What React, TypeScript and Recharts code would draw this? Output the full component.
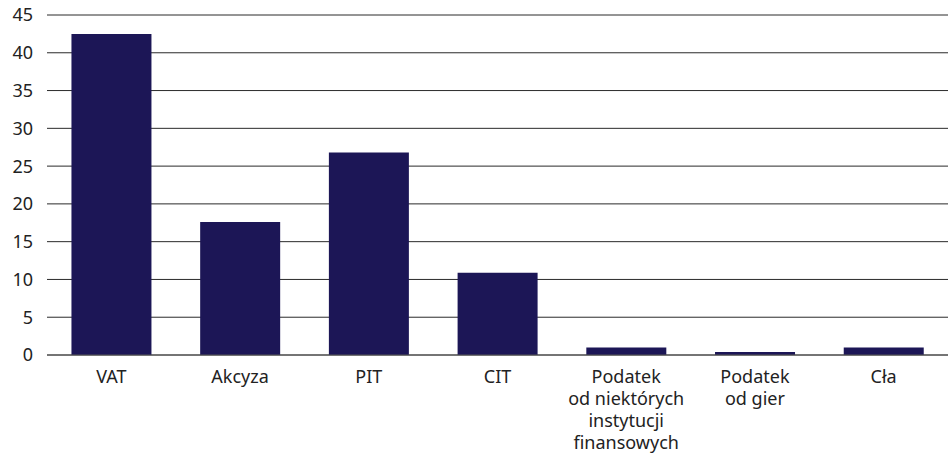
import { Bar, BarChart, CartesianGrid, XAxis, YAxis } from "recharts"

const categories = ["VAT", "Akcyza", "PIT", "CIT", "Podatek\nod niektórych\ninstytucji\nfinansowych", "Podatek\nod gier", "Cła"]
const values = [42.5, 17.6, 26.8, 10.9, 1.0, 0.4, 1.0]
const yTicks = [0, 5, 10, 15, 20, 25, 30, 35, 40, 45]

const data = categories.map((name, i) => ({ name, value: values[i] }))

const font = "'Noto Sans', 'Open Sans', sans-serif"

function CategoryTick({ x, y, payload }: any) {
  const lines = String(payload.value).split("\n")
  return (
    <text x={x} y={y} textAnchor="middle" fill="#222" fontSize={18} fontFamily={font}>
      {lines.map((line, i) => (
        <tspan key={i} x={x} dy={i === 0 ? 20 : 22}>
          {line}
        </tspan>
      ))}
    </text>
  )
}

export default function App() {
  return (
    <div style={{ position: "absolute", left: 0, top: 0, background: "#fff" }}>
      <BarChart
        width={949}
        height={457}
        data={data}
        margin={{ top: 15, right: 1, bottom: 0, left: 0 }}
        barCategoryGap="19%"
      >
        <CartesianGrid vertical={false} stroke="#2a2a2a" strokeOpacity={1} />
        <XAxis
          dataKey="name"
          interval={0}
          tickLine={false}
          axisLine={{ stroke: "#555" }}
          height={102}
          tick={<CategoryTick />}
        />
        <YAxis
          domain={[0, 45]}
          ticks={yTicks}
          width={47}
          tickLine={false}
          axisLine={false}
          tickMargin={8}
          tick={{ fill: "#222", fontSize: 18, fontFamily: font }}
        />
        <Bar dataKey="value" fill="#1c1656" isAnimationActive={false} />
      </BarChart>
    </div>
  )
}
